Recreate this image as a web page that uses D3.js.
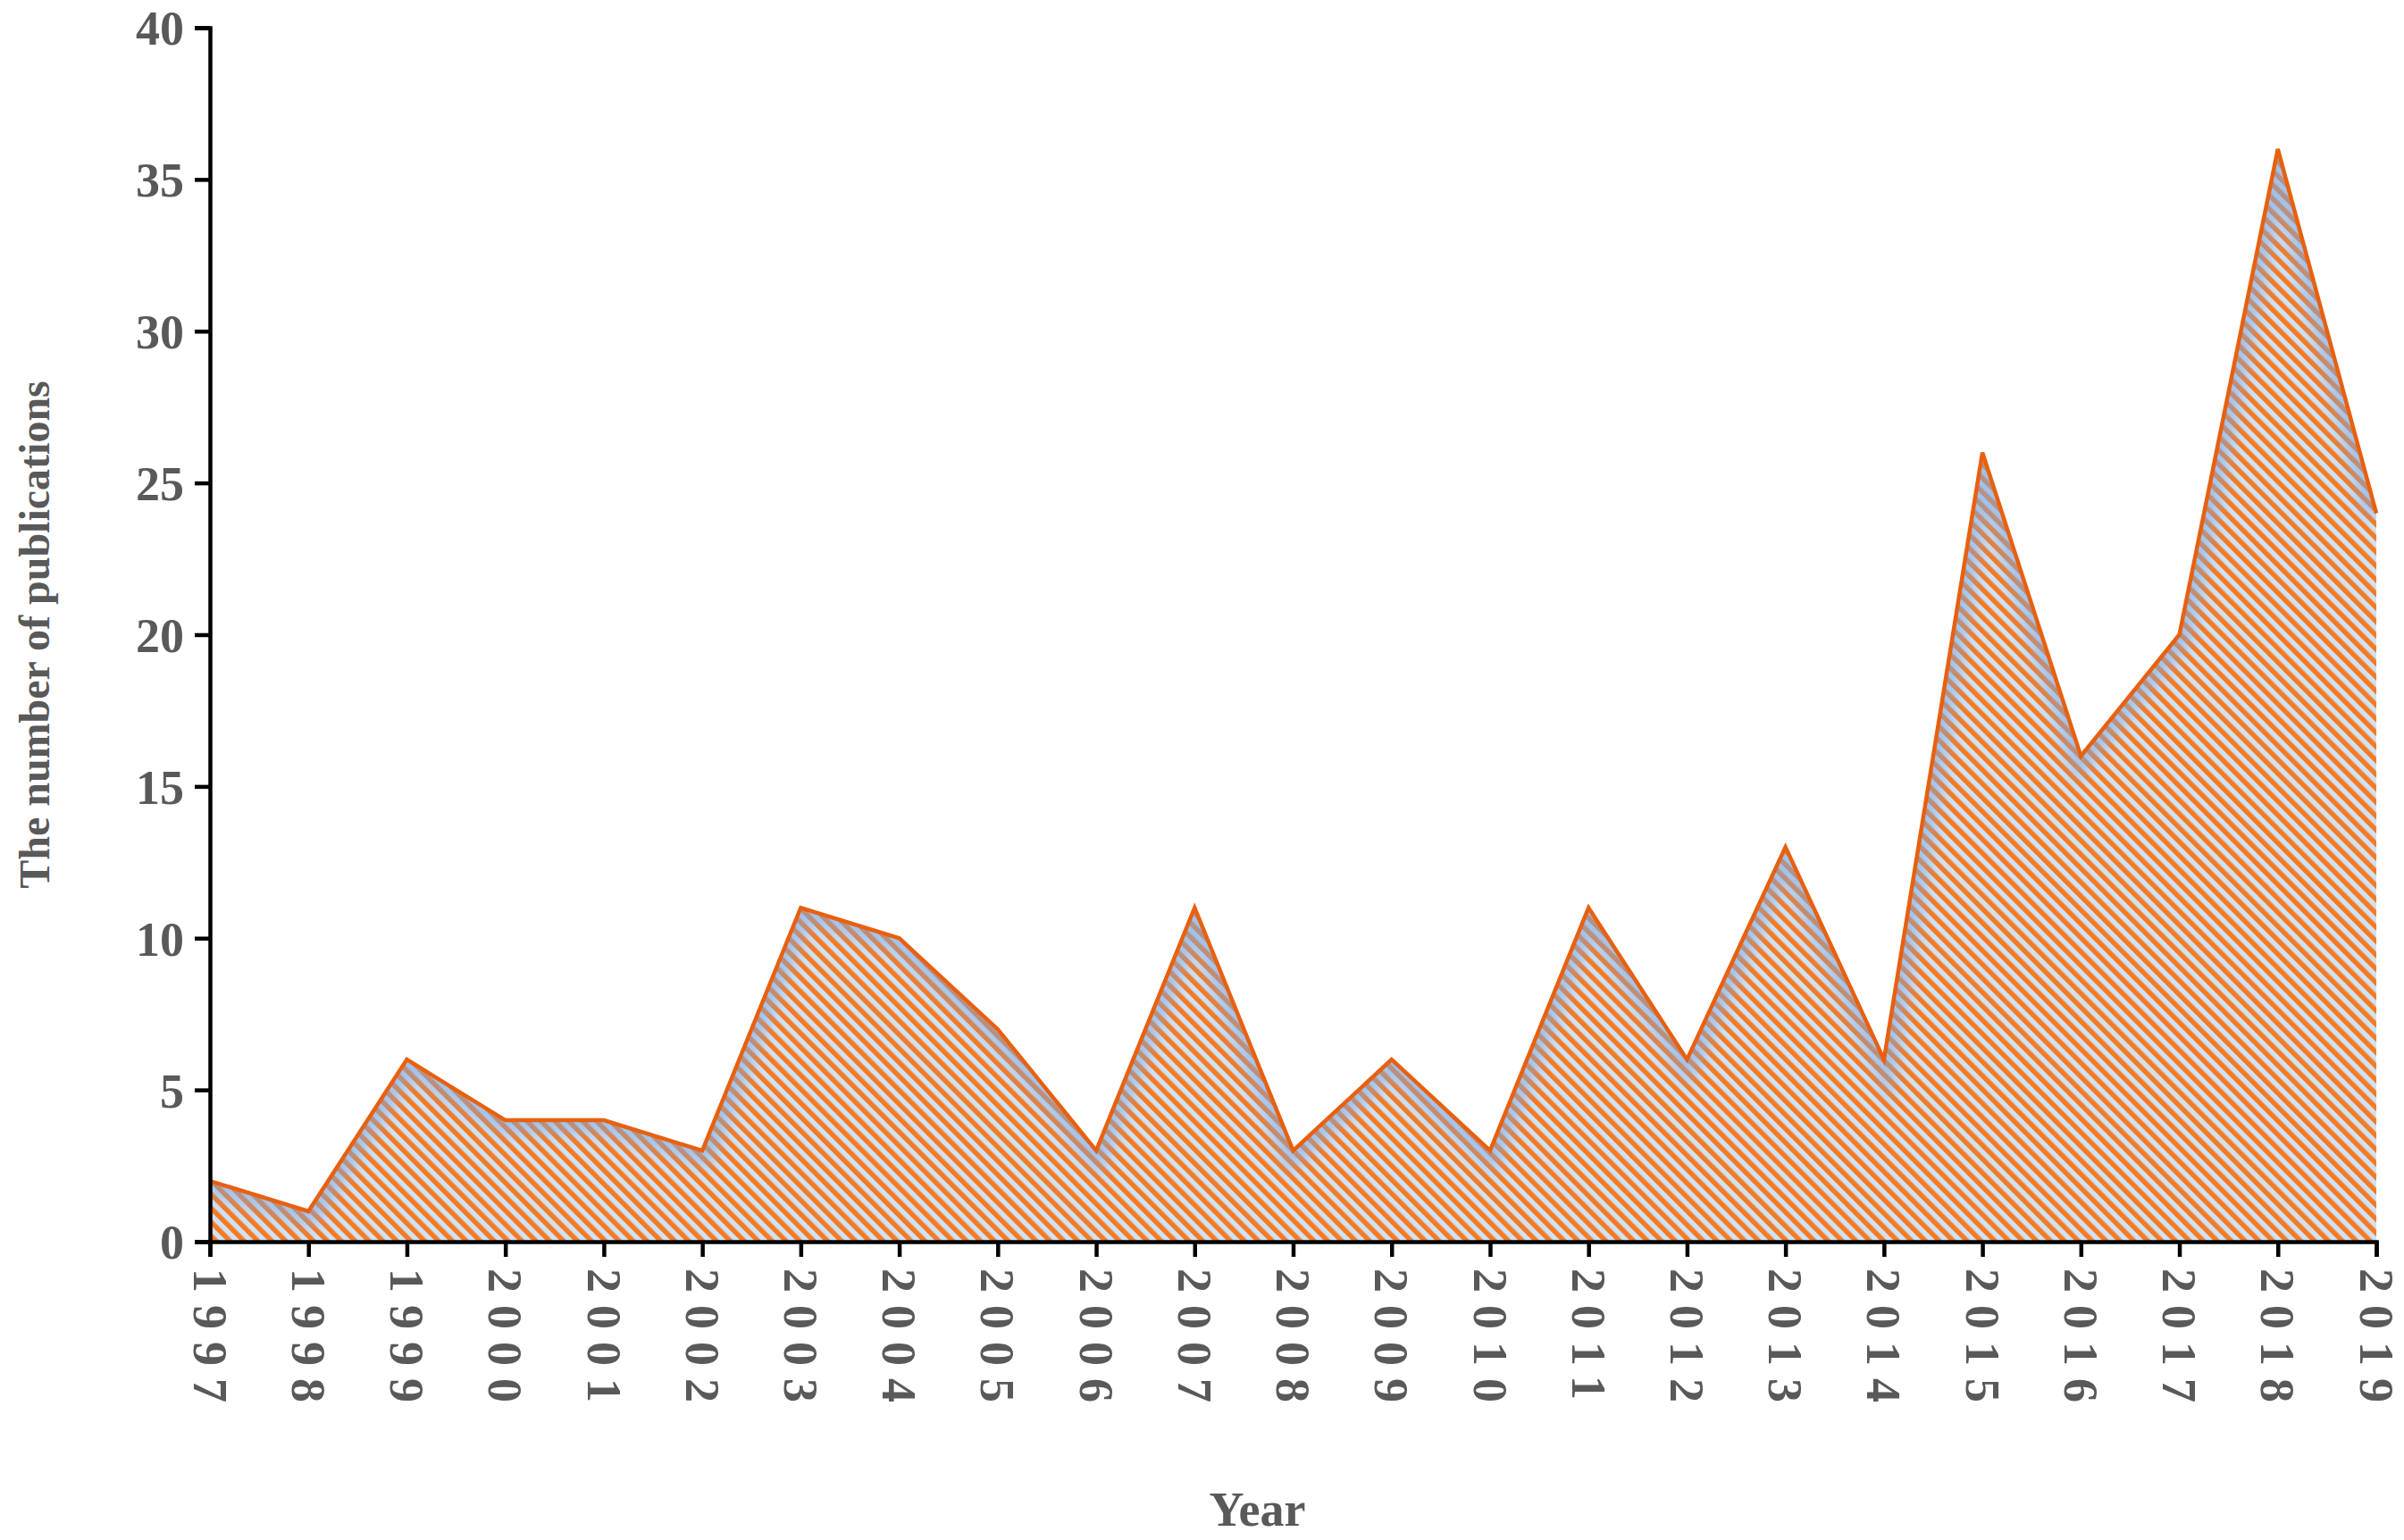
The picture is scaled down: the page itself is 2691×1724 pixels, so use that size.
<!DOCTYPE html>
<html><head><meta charset="utf-8">
<script src="https://cdn.jsdelivr.net/npm/d3@7"></script>
<style>body{margin:0;background:#fff}text{font-family:"Liberation Serif","Times New Roman",serif;font-weight:bold;fill:#595959}</style>
</head><body><div id="container"></div>
<script>
const years = ["1997","1998","1999","2000","2001","2002","2003","2004","2005","2006","2007","2008","2009","2010","2011","2012","2013","2014","2015","2016","2017","2018","2019"];
const counts = [2,1,6,4,4,3,11,10,7,3,11,3,6,3,11,6,13,6,26,16,20,36,24];
const y_ticks = [0,5,10,15,20,25,30,35,40];

var W = 2691, H = 1724;
var m_left = 235, m_right = 2660, m_top = 31, m_bottom = 1390;

var svg = d3.select("#container").append("svg").attr("width", W).attr("height", H);
var defs = svg.append("defs");

var pat = defs.append("pattern").attr("id","hatch").attr("patternUnits","userSpaceOnUse")
    .attr("width",11).attr("height",11).attr("patternTransform","rotate(-45)");
pat.append("rect").attr("width",11).attr("height",11).attr("fill","#cfe2f6");
pat.append("rect").attr("width",5.5).attr("height",11).attr("fill","#f57a22");

var blur = defs.append("filter").attr("id","soft");
blur.append("feGaussianBlur").attr("stdDeviation",8);

var x = d3.scalePoint().domain(years).range([m_left, m_right]);
var y = d3.scaleLinear().domain([0,40]).range([m_bottom, m_top]);

var data = years.map(function(a,i){ return {year:a, n:counts[i]}; });

var area = d3.area().x(function(d){return x(d.year);}).y0(y(0)).y1(function(d){return y(d.n);});
var line = d3.line().x(function(d){return x(d.year);}).y(function(d){return y(d.n);});

defs.append("clipPath").attr("id","clip").append("path").attr("d", area(data));

svg.append("path").attr("d", area(data)).attr("fill","url(#hatch)");
// bluish shade just under the edge
svg.append("g").attr("clip-path","url(#clip)")
  .append("path").attr("d", line(data)).attr("fill","none")
  .attr("stroke","#7fa6dc").attr("stroke-width",30).attr("opacity",0.55).attr("filter","url(#soft)");
svg.append("path").attr("d", line(data)).attr("fill","none")
  .attr("stroke","#e8600f").attr("stroke-width",4.5).attr("stroke-linejoin","miter");

// axes
var gy = svg.append("g").attr("transform","translate(" + m_left + ",0)")
  .call(d3.axisLeft(y).tickValues(y_ticks).tickSize(17).tickPadding(12));
var gx = svg.append("g").attr("transform","translate(0," + m_bottom + ")")
  .call(d3.axisBottom(x).tickSize(17).tickPadding(0));
[gy, gx].forEach(function(g){
  g.select(".domain").attr("stroke","#000").attr("stroke-width",4.5);
  g.selectAll(".tick line").attr("stroke","#000").attr("stroke-width",4.5);
});
gy.selectAll("text").style("font-size","54px").attr("fill","#595959").attr("dy","0.35em");
gx.selectAll("text").style("font-size","54px").attr("fill","#595959")
  .style("letter-spacing","14px")
  .attr("text-anchor","start").attr("dy","0.35em")
  .attr("transform","translate(0,30) rotate(90)").attr("x",0).attr("y",0);

svg.append("text").attr("x",(m_left+m_right)/2 - 40).attr("y",1708).attr("text-anchor","middle")
  .style("font-size","54px").text("Year");
svg.append("text").attr("transform","translate(55," + (m_bottom+m_top)/2 + ") rotate(-90)")
  .attr("text-anchor","middle").style("font-size","48px").text("The number of publications");
</script></body></html>
